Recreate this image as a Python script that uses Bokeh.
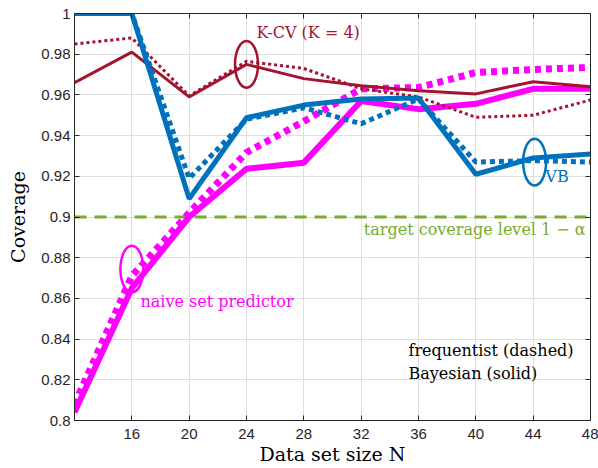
from bokeh.plotting import figure
from bokeh.models import Range1d, LinearAxis, FixedTicker, Label
from bokeh.embed import file_html
from bokeh.resources import INLINE

# ---- data ----
N = [12, 16, 20, 24, 28, 32, 36, 40, 44, 48]
kcv_bayes = [0.966, 0.981, 0.959, 0.975, 0.968, 0.9645, 0.962, 0.9605, 0.9665, 0.964]
kcv_freq = [0.985, 0.988, 0.9595, 0.9765, 0.973, 0.963, 0.959, 0.949, 0.950, 0.9575]
vb_bayes = [1.0, 1.0, 0.909, 0.9488, 0.955, 0.958, 0.9585, 0.921, 0.929, 0.931]
vb_freq = [1.0, 1.0, 0.919, 0.948, 0.9537, 0.9458, 0.958, 0.927, 0.9277, 0.927]
naive_bayes = [0.804, 0.865, 0.900, 0.9237, 0.9267, 0.957, 0.953, 0.9556, 0.963, 0.963]
naive_freq = [0.808, 0.871, 0.902, 0.9317, 0.947, 0.963, 0.9636, 0.971, 0.9725, 0.9735]
target = 0.9

x_ticks = [16, 20, 24, 28, 32, 36, 40, 44, 48]
y_ticks = [0.8, 0.82, 0.84, 0.86, 0.88, 0.9, 0.92, 0.94, 0.96, 0.98, 1.0]
y_tick_labels = ["0.8", "0.82", "0.84", "0.86", "0.88", "0.9", "0.92", "0.94", "0.96", "0.98", "1"]

# annotation ellipses (center x, center y)
ell_kcv = (24.0, 0.975)
ell_vb = (44.1, 0.927)
ell_naive = (16.0, 0.8744)
ell_w, ell_h = 1.6, 0.023

BLUE = "#0072BD"
RED = "#A2142F"
MAG = "#FF00FF"
GREEN = "#77AC30"
AX = "#262626"
SERIF = "DejaVu Serif"
SANS = "Liberation Sans"

p = figure(width=598, height=468, output_backend="svg", toolbar_location=None,
           x_range=Range1d(12, 48), y_range=Range1d(0.8, 1.0),
           min_border_left=74, min_border_right=8, min_border_top=13, min_border_bottom=48)
p.outline_line_color = AX
p.outline_line_width = 1
p.background_fill_color = "white"

for ax in (p.xaxis[0], p.yaxis[0]):
    ax.axis_line_color = AX
    ax.major_tick_line_color = AX
    ax.major_tick_in = 5
    ax.major_tick_out = 0
    ax.minor_tick_line_color = None
    ax.major_label_text_font = SANS
    ax.major_label_text_font_size = "15px"
    ax.major_label_text_color = AX
    ax.axis_label_text_font = SERIF
    ax.axis_label_text_font_style = "normal"
    ax.axis_label_text_font_size = "19px"
    ax.axis_label_text_color = "black"

p.xaxis.ticker = FixedTicker(ticks=x_ticks)
p.yaxis.ticker = FixedTicker(ticks=y_ticks)
p.yaxis.major_label_overrides = {t: l for t, l in zip(y_ticks, y_tick_labels)}
p.xaxis.axis_label = "Data set size N"
p.yaxis.axis_label = "Coverage"
p.xaxis.major_label_standoff = 8
p.xaxis.axis_label_standoff = 1
p.yaxis.major_label_standoff = 4
p.yaxis.axis_label_standoff = 9

for loc in ("right", "above"):
    ticks = y_ticks if loc == "right" else x_ticks
    ax = LinearAxis(ticker=FixedTicker(ticks=ticks),
                    major_label_overrides={t: "" for t in ticks},
                    major_tick_in=5, major_tick_out=0,
                    minor_tick_line_color=None, axis_line_color=AX, major_tick_line_color=AX,
                    major_label_standoff=0)
    p.add_layout(ax, loc)

p.xgrid.ticker = FixedTicker(ticks=x_ticks)
p.ygrid.ticker = FixedTicker(ticks=y_ticks)
p.grid.grid_line_color = "#dedede"
p.grid.grid_line_width = 1

# target line
p.line([12, 48], [target, target], line_color=GREEN, line_width=3, line_dash="12 8")

# series
p.line(N, naive_freq, line_color=MAG, line_width=7, line_dash="6 5", line_cap="butt")
p.line(N, naive_bayes, line_color=MAG, line_width=6)
p.line(N, kcv_freq, line_color=RED, line_width=3, line_dash="3 3")
p.line(N, kcv_bayes, line_color=RED, line_width=3)
p.line(N, vb_freq, line_color=BLUE, line_width=5, line_dash="5 4", line_cap="butt")
p.line(N, vb_bayes, line_color=BLUE, line_width=5)

# ellipses
p.ellipse(x=[ell_kcv[0]], y=[ell_kcv[1]], width=ell_w, height=ell_h,
          fill_color=None, line_color=RED, line_width=2.5)
p.ellipse(x=[ell_vb[0]], y=[ell_vb[1]], width=ell_w, height=ell_h,
          fill_color=None, line_color=BLUE, line_width=2.5)
p.ellipse(x=[ell_naive[0]], y=[ell_naive[1]], width=ell_w, height=ell_h,
          fill_color=None, line_color=MAG, line_width=2.5)

def lab(x, y, text, color, align="left", baseline="middle", style="normal"):
    p.add_layout(Label(x=x, y=y, text=text, text_color=color, text_font=SERIF,
                       text_font_size="16px", text_align=align, text_baseline=baseline,
                       text_font_style=style))

lab(24.7, 0.9905, "K-CV (K = 4)", RED)
lab(44.85, 0.9199, "VB", BLUE)
lab(16.6, 0.8584, "naive set predictor", MAG)
lab(47.66, 0.8938, "target coverage level 1 − α", GREEN, align="right")
lab(35.3, 0.8344, "frequentist (dashed)", "black")
lab(35.3, 0.8231, "Bayesian (solid)", "black")

open("out.html", "w").write(file_html(p, INLINE))
